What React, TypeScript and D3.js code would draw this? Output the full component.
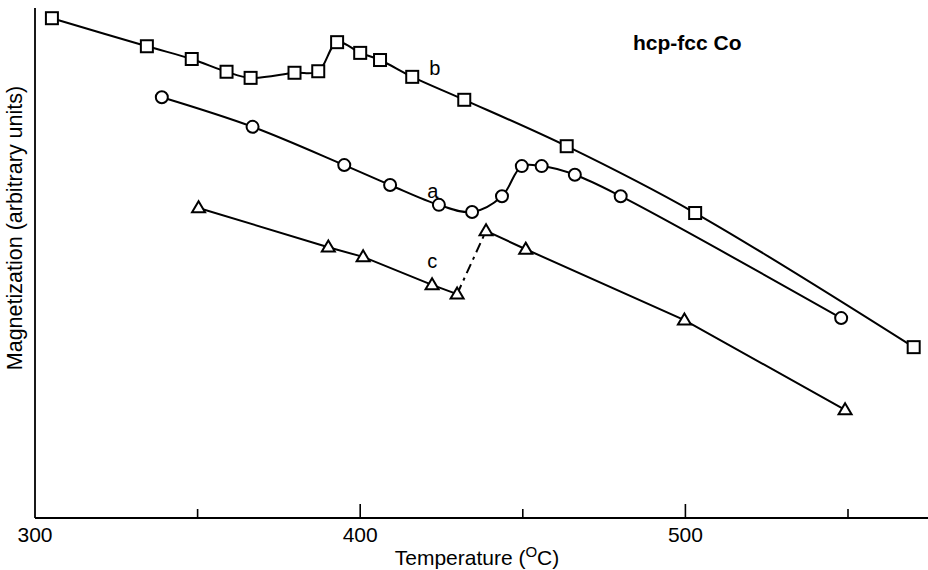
import React from "react";
import * as d3 from "d3";

// Curve b (squares)
const bTemp = [305.2, 334.4, 348.2, 358.9, 366.3, 379.8, 387.1, 392.9, 400.0, 406.1, 416.0, 432.0, 463.5, 503.0, 570.2];
const bMag = [98.0, 92.5, 90.0, 87.5, 86.3, 87.3, 87.6, 93.3, 91.2, 89.8, 86.5, 82.0, 72.9, 59.8, 33.5];

// Curve a (circles)
const aTemp = [339.0, 366.9, 395.1, 409.2, 424.2, 434.4, 443.6, 449.7, 455.8, 466.0, 480.1, 547.9];
const aMag = [82.5, 76.7, 69.2, 65.3, 61.4, 60.0, 63.1, 69.0, 69.0, 67.3, 63.1, 39.2];

// Curve c (triangles); first 5 points before the jump, rest after
const cTemp = [350.3, 390.2, 400.9, 422.1, 429.8, 438.7, 450.9, 499.7, 549.1];
const cMag = [60.8, 53.1, 51.2, 45.7, 43.9, 56.3, 52.7, 38.8, 21.2];
const cJump = 4;

const majorTicks = [400, 500];
const minorTicks = [350, 450, 550];
const tickLabels = [300, 400, 500];

const curveLabels = [
  { text: "b", t: 421.2, m: 86.9 },
  { text: "a", t: 420.6, m: 62.8 },
  { text: "c", t: 420.6, m: 49.0 },
];

const W = 928;
const H = 570;
const FONT = "'Liberation Sans', Arial, Helvetica, sans-serif";

export default function App() {
  const x = d3.scaleLinear().domain([300, 550]).range([35, 848]);
  const y = d3.scaleLinear().domain([0, 100]).range([518, 8]);

  const smooth = d3
    .line<[number, number]>()
    .x((d) => x(d[0]))
    .y((d) => y(d[1]))
    .curve(d3.curveCatmullRom.alpha(0.5));
  const straight = d3
    .line<[number, number]>()
    .x((d) => x(d[0]))
    .y((d) => y(d[1]));

  const bPts: [number, number][] = bTemp.map((t, i) => [t, bMag[i]]);
  const aPts: [number, number][] = aTemp.map((t, i) => [t, aMag[i]]);
  const cPts: [number, number][] = cTemp.map((t, i) => [t, cMag[i]]);

  const sq = 12;
  const tri = (cx: number, cy: number) => {
    const s = 13;
    const h = 11;
    return `M${cx},${cy - h * 0.6} L${cx + s / 2},${cy + h * 0.4} L${cx - s / 2},${cy + h * 0.4} Z`;
  };

  return (
    <svg
      width={W}
      height={H}
      style={{ position: "absolute", left: 0, top: 0, background: "#fff" }}
      fontFamily={FONT}
    >
      <rect x={0} y={0} width={W} height={H} fill="#fff" />
      {/* axes */}
      <line x1={35} y1={8} x2={35} y2={518} stroke="#000" strokeWidth={1.8} />
      <line x1={35} y1={518} x2={W} y2={518} stroke="#000" strokeWidth={1.8} />
      {majorTicks.map((t) => (
        <line key={"M" + t} x1={x(t)} x2={x(t)} y1={518} y2={504} stroke="#000" strokeWidth={1.6} />
      ))}
      {minorTicks.map((t) => (
        <line key={"m" + t} x1={x(t)} x2={x(t)} y1={518} y2={509} stroke="#000" strokeWidth={1.6} />
      ))}
      {tickLabels.map((t) => (
        <text key={"l" + t} x={x(t)} y={542} textAnchor="middle" fontSize={21} fill="#000">
          {t}
        </text>
      ))}
      <text x={477} y={565} textAnchor="middle" fontSize={21} fill="#000">
        Temperature (
        <tspan fontSize={15} dy={-8}>O</tspan>
        <tspan dy={8}>C)</tspan>
      </text>
      <text
        transform="translate(22,228) rotate(-90)"
        textAnchor="middle"
        fontSize={21.5}
        fill="#000"
      >
        Magnetization (arbitrary units)
      </text>
      <text x={633} y={50} fontSize={21} fontWeight="bold" fill="#000">
        hcp-fcc Co
      </text>

      {/* lines */}
      <path d={smooth(bPts) || ""} fill="none" stroke="#000" strokeWidth={2} />
      <path d={smooth(aPts) || ""} fill="none" stroke="#000" strokeWidth={2} />
      <path d={straight(cPts.slice(0, cJump + 1)) || ""} fill="none" stroke="#000" strokeWidth={2} />
      <path
        d={straight(cPts.slice(cJump, cJump + 2)) || ""}
        fill="none"
        stroke="#000"
        strokeWidth={2}
        strokeDasharray="10 5 3 5"
      />
      <path d={straight(cPts.slice(cJump + 1)) || ""} fill="none" stroke="#000" strokeWidth={2} />

      {/* markers */}
      {bPts.map((d, i) => (
        <rect
          key={"b" + i}
          x={x(d[0]) - sq / 2}
          y={y(d[1]) - sq / 2}
          width={sq}
          height={sq}
          fill="#fff"
          stroke="#000"
          strokeWidth={2}
        />
      ))}
      {aPts.map((d, i) => (
        <circle key={"a" + i} cx={x(d[0])} cy={y(d[1])} r={6} fill="#fff" stroke="#000" strokeWidth={2} />
      ))}
      {cPts.map((d, i) => (
        <path key={"c" + i} d={tri(x(d[0]), y(d[1]))} fill="#fff" stroke="#000" strokeWidth={2} strokeLinejoin="miter" />
      ))}

      {curveLabels.map((l) => (
        <text key={l.text} x={x(l.t)} y={y(l.m)} fontSize={20} fill="#000">
          {l.text}
        </text>
      ))}
    </svg>
  );
}
